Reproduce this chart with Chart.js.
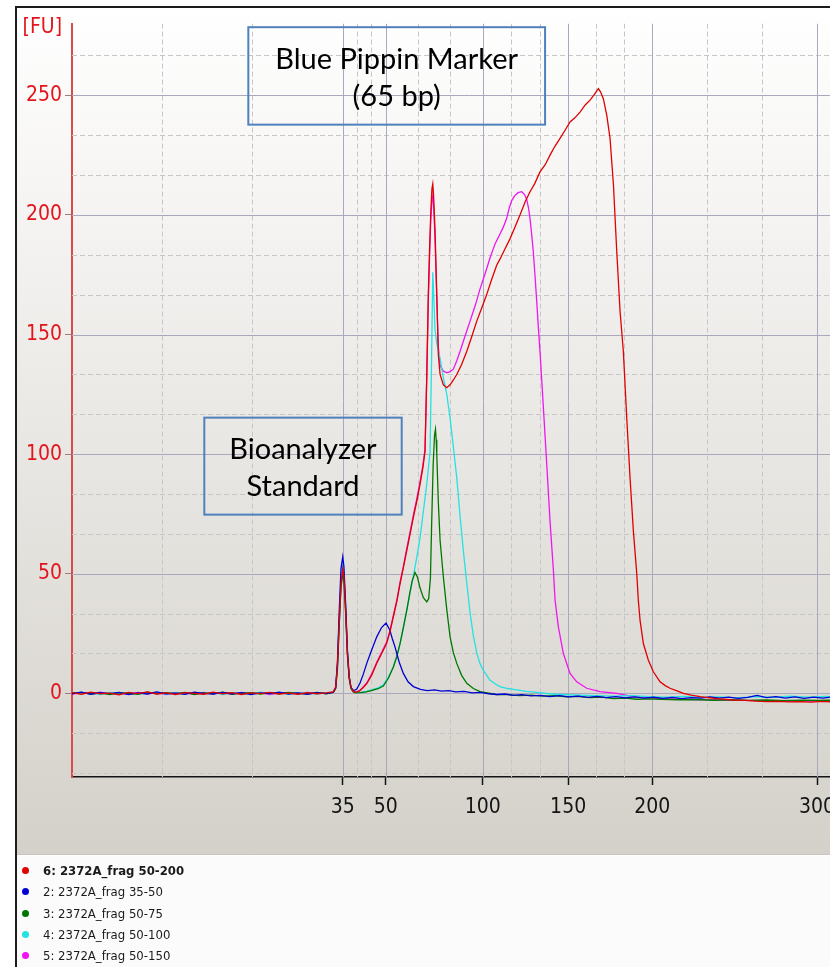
<!DOCTYPE html>
<html>
<head>
<meta charset="utf-8">
<script src="https://cdn.jsdelivr.net/npm/chart.js@4.4.1/dist/chart.umd.min.js"></script>
<style>
  html, body { margin: 0; padding: 0; width: 830px; height: 967px; overflow: hidden; background: #ffffff; }
  #frame { position: absolute; left: 15px; top: 6px; width: 900px; height: 1000px; border: 2px solid #1c1c1c; background: #fbfbfb; }
  #plot { position: absolute; left: 0; top: 0; width: 900px; height: 847px;
          background: linear-gradient(#ffffff 0%, #eceae7 45%, #d4d1ca 100%); }
  #plot canvas { position: absolute; left: 0; top: 0; }
  #legend { position: absolute; left: 0; top: 847px; width: 900px; height: 153px; background: #fbfbfb;
            border-top: 1px solid #ffffff; box-shadow: 0 -1px 0 #c8c5be; padding-top: 4px;
            font-family: 'DejaVu Sans Condensed', 'DejaVu Sans', sans-serif; font-size: 13px; color: #1a1a1a; }
  .row { position: relative; height: 21.25px; line-height: 21.25px; padding-left: 26px; white-space: nowrap; }
  .row .dot { position: absolute; left: 5px; top: 7px; width: 7px; height: 7px; border-radius: 50%; }
  .row.sel { font-weight: bold; }
</style>
</head>
<body>
<div id="frame">
  <div id="plot"><canvas id="chart" width="860" height="847"></canvas></div>
  <div id="legend"></div>
</div>
<script>
// Migration time (s) of the ladder sizes labelled on the x axis
const ladderTimes = [43.0, 46.65, 54.9, 62.15, 69.3, 83.3];
const ladderSizes = ['35', '50', '100', '150', '200', '300'];
// Fluorescence ticks
const fuTicks = [0, 50, 100, 150, 200, 250];

// Flat baseline before the lower marker (shared times, one noise row per sample)
const baselineTimes = [20.0, 20.8, 21.6, 22.4, 23.2, 24.0, 24.8, 25.6, 26.4, 27.2, 28.0, 28.8, 29.6, 30.4, 31.2,
  32.0, 32.8, 33.6, 34.4, 35.2, 36.0, 36.8, 37.6, 38.4, 39.2, 40.0, 40.8, 41.6, 42.2];
const baseline50to200 = [0.3, -0.4, 0.5, -0.2, 0.1, -0.6, 0.4, -0.1, 0.6, -0.3, 0.2, -0.5, 0.3, 0.0, -0.4,
  0.5, -0.2, 0.3, -0.5, 0.2, -0.1, 0.4, -0.3, 0.1, -0.4, 0.3, -0.2, 0.2, 0.6];
const baseline35to50 = [-0.2, 0.5, -0.4, 0.3, -0.1, 0.4, -0.5, 0.2, -0.3, 0.6, -0.2, 0.1, -0.4, 0.5, 0.0,
  -0.3, 0.4, -0.2, 0.3, -0.5, 0.2, -0.1, 0.5, -0.3, 0.2, -0.4, 0.3, -0.1, 0.5];
const baseline50to75 = [0.1, 0.4, -0.3, 0.2, -0.5, 0.3, 0.0, -0.4, 0.5, -0.2, 0.3, -0.1, 0.4, -0.5, 0.2,
  -0.2, 0.5, -0.4, 0.1, 0.3, -0.3, 0.2, -0.2, 0.4, 0.0, -0.3, 0.4, -0.2, 0.4];
const baseline50to100 = [0.4, -0.1, 0.2, -0.5, 0.4, -0.2, 0.3, -0.3, 0.1, 0.5, -0.4, 0.2, -0.2, 0.3, -0.1,
  0.4, -0.5, 0.2, 0.0, -0.3, 0.5, -0.2, 0.3, -0.4, 0.2, 0.1, -0.3, 0.3, 0.5];
const baseline50to150 = [-0.3, 0.2, -0.1, 0.5, -0.3, 0.1, -0.4, 0.4, -0.2, 0.2, -0.5, 0.3, 0.1, -0.3, 0.4,
  -0.1, 0.2, -0.4, 0.4, -0.2, 0.3, -0.5, 0.1, 0.3, -0.2, 0.4, -0.1, 0.1, 0.4];

// Peaks and tails: [time (s), FU]
const trace50to200 = [[42.4, 2.5], [42.55, 12], [42.7, 30], [42.85, 46], [43.0, 52], [43.1, 49], [43.25, 35],
  [43.4, 17], [43.55, 7], [43.7, 2.5], [43.9, 0.8], [44.1, 0.4], [44.4, 0.9], [44.7, 2.2],
  [45.04, 4], [45.45, 7.5], [45.89, 12.6], [46.3, 16.5], [46.74, 21], [47.0, 25.5], [47.3, 32], [47.6, 38.5],
  [47.87, 45.8], [48.15, 52.5], [48.44, 59.7], [48.72, 66.5], [49.0, 73.6], [49.3, 80.5], [49.57, 87.5],
  [49.8, 94], [49.99, 101], [50.14, 133], [50.27, 166.7], [50.38, 186], [50.48, 201], [50.58, 211], [50.65, 213],
  [50.72, 208], [50.84, 194], [50.99, 166.7], [51.12, 141.7], [51.27, 133.3], [51.55, 129], [51.84, 127.8],
  [52.12, 129], [52.4, 131], [52.69, 133.3], [53.1, 137.5], [53.54, 143], [53.95, 149], [54.38, 155.5],
  [54.8, 161], [55.23, 166.7], [55.65, 173], [56.08, 179], [56.36, 181.5], [56.8, 186], [57.21, 190],
  [57.6, 194.5], [58.06, 200], [58.5, 205.5], [58.91, 209.7], [59.3, 213], [59.76, 218], [60.2, 221],
  [60.61, 225], [61.0, 228.5], [61.46, 232], [61.9, 235.5], [62.31, 238.9], [62.7, 240.5], [63.16, 243],
  [63.6, 246], [64.01, 248], [64.4, 250.5], [64.6, 252], [64.72, 252.8], [64.9, 251.5], [65.14, 248.6],
  [65.43, 241.7], [65.71, 232], [66.0, 212.5], [66.28, 184.7], [66.56, 159.7], [66.84, 143], [67.13, 115],
  [67.41, 90], [67.69, 68], [67.98, 50], [68.11, 39], [68.26, 30.5], [68.54, 20.8], [68.96, 13.9], [69.39, 9],
  [69.96, 4.8], [70.4, 3.2], [70.81, 2.1], [71.4, 1.0], [71.94, 0], [72.6, -0.8], [73.36, -1.4], [74.2, -1.9],
  [75.0, -2.3], [76.18, -2.8], [77.2, -3.0], [78.1, -3.3], [79.02, -3.5], [80.0, -3.4], [80.9, -3.6],
  [81.85, -3.5], [82.8, -3.7], [83.7, -3.4], [84.4, -3.6], [85.3, -3.5], [86.2, -3.7], [87.5, -3.5]];

const trace35to50 = [[42.4, 2.5], [42.55, 13], [42.7, 34], [42.85, 52], [43.0, 57], [43.1, 53], [43.25, 37],
  [43.4, 18], [43.55, 7], [43.7, 2.5], [43.9, 1.2], [44.04, 1.3], [44.19, 1.8], [44.47, 4.3], [44.75, 8],
  [45.04, 12.5], [45.45, 18], [45.89, 23.6], [46.3, 27.5], [46.68, 29.4], [47.0, 26.5], [47.2, 23],
  [47.44, 19.4], [47.8, 13], [48.15, 8.3], [48.55, 4.8], [49.0, 2.8], [49.6, 1.6], [50.2, 1.1], [50.8, 1.4],
  [51.4, 0.9], [52.0, 1.1], [52.6, 0.6], [53.3, 0.8], [54.0, 0.2], [54.7, 0.4], [55.4, -0.2], [56.1, -0.5],
  [56.8, -0.3], [57.5, -0.9], [58.2, -0.6], [59.0, -1.1], [59.8, -0.9], [60.6, -1.4], [61.4, -1.0],
  [62.2, -1.5], [63.0, -1.2], [63.8, -1.7], [64.6, -1.3], [65.4, -1.8], [66.2, -1.4], [67.0, -1.9],
  [67.8, -1.5], [68.6, -2.0], [69.4, -1.6], [70.2, -2.1], [71.0, -1.7], [71.8, -2.2], [72.6, -1.8],
  [73.4, -2.0], [74.2, -1.5], [75.0, -2.0], [75.8, -1.6], [76.6, -2.1], [77.4, -1.7], [78.2, -0.9],
  [79.0, -1.8], [79.8, -1.4], [80.6, -2.0], [81.4, -1.5], [82.2, -2.1], [83.0, -1.6], [83.8, -2.0],
  [84.6, -1.5], [85.4, -2.0], [86.2, -1.6], [87.5, -1.8]];

const trace50to75 = [[42.4, 2], [42.55, 10], [42.7, 28], [42.85, 44], [43.0, 50], [43.1, 47], [43.25, 33],
  [43.4, 16], [43.55, 6], [43.7, 2], [43.9, 0.6], [44.1, 0.2], [44.5, 0.3], [45.0, 0.6], [45.5, 1.2],
  [46.0, 1.9], [46.45, 3], [46.9, 6.5], [47.3, 11], [47.6, 15.5], [47.87, 20.8], [48.15, 27.5], [48.44, 34.7],
  [48.7, 42], [48.9, 47], [49.14, 50.5], [49.35, 48.5], [49.57, 44], [49.85, 40], [50.14, 38.2], [50.3, 39.5],
  [50.45, 48], [50.55, 70], [50.68, 95], [50.8, 108], [50.88, 110.4], [50.94, 106], [50.99, 100], [51.12, 80],
  [51.27, 64], [51.55, 48.6], [51.84, 35], [52.12, 23.6], [52.4, 17], [52.69, 12.5], [53.1, 7.5], [53.54, 4.2],
  [54.1, 2.0], [54.66, 0.7], [55.3, 0.2], [56.0, -0.5], [57.0, -0.6], [58.0, -1.0], [59.0, -0.8], [60.0, -1.2],
  [61.0, -1.0], [62.0, -1.5], [63.0, -1.3], [64.0, -1.8], [65.0, -1.6], [66.0, -2.2], [67.0, -2.0],
  [68.0, -2.5], [69.0, -2.3], [70.0, -2.5], [71.5, -2.7], [73.0, -2.6], [74.5, -2.9], [76.0, -2.7],
  [77.5, -3.0], [79.0, -2.8], [80.5, -3.1], [82.0, -2.9], [83.5, -3.0], [85.0, -2.8], [87.5, -3.0]];

const trace50to100 = [[42.4, 2.2], [42.55, 12], [42.7, 31], [42.85, 48], [43.0, 54], [43.1, 51], [43.25, 36],
  [43.4, 17], [43.55, 6.5], [43.7, 2.2], [43.9, 0.8], [44.1, 0.3], [44.5, 0.4], [45.0, 0.8], [45.5, 1.5],
  [46.0, 2.3], [46.45, 3.5], [46.9, 7], [47.3, 11], [47.6, 15.5], [47.87, 20.8], [48.15, 27.5], [48.44, 34.7],
  [48.72, 42], [49.0, 49], [49.3, 57], [49.57, 65], [49.85, 76], [50.14, 87.5], [50.42, 101], [50.55, 140],
  [50.65, 176], [50.72, 168], [50.84, 152], [51.0, 146], [51.27, 140], [51.55, 132], [51.84, 125],
  [52.12, 115], [52.4, 103], [52.69, 90], [52.97, 74], [53.26, 59], [53.54, 46], [53.81, 34], [54.1, 24],
  [54.38, 17], [54.66, 12.5], [54.94, 9.7], [55.5, 5.5], [56.0, 3.8], [56.36, 2.8], [57.0, 2.0], [57.78, 1.4],
  [58.6, 0.8], [59.5, 0.4], [60.5, -0.2], [61.5, -0.5], [63.0, -0.8], [64.5, -1.0], [66.0, -1.2], [67.5, -1.0],
  [69.0, -1.4], [70.5, -1.6], [72.0, -1.3], [73.5, -1.8], [75.0, -1.5], [76.5, -1.9], [78.0, -1.4],
  [79.5, -1.7], [81.0, -1.2], [82.5, -1.6], [84.0, -1.3], [85.5, -1.7], [87.5, -1.4]];

const trace50to150 = [[42.4, 2], [42.55, 11], [42.7, 29], [42.85, 45], [43.0, 51], [43.1, 48], [43.25, 34],
  [43.4, 16], [43.55, 6.5], [43.7, 2.2], [43.9, 0.7], [44.1, 0.5], [44.4, 1.0], [44.7, 2.4],
  [45.04, 4.3], [45.45, 8], [45.89, 13], [46.3, 17], [46.74, 21.5], [47.0, 26], [47.3, 32.5], [47.6, 39],
  [47.87, 46.5], [48.15, 53], [48.44, 60.5], [48.72, 67.5], [49.0, 74.5], [49.3, 81.5], [49.57, 88.5],
  [49.8, 95], [49.99, 102], [50.14, 132], [50.27, 164], [50.38, 183], [50.48, 198], [50.58, 206], [50.65, 208],
  [50.72, 204], [50.84, 190], [50.99, 165], [51.12, 145], [51.27, 137], [51.55, 134.7], [51.84, 134],
  [52.12, 134.5], [52.4, 135.5], [52.69, 139], [52.97, 143], [53.4, 149.5], [53.81, 155.5], [54.25, 162],
  [54.66, 169], [55.1, 175.5], [55.51, 182], [55.95, 188], [56.36, 192], [56.65, 195], [56.93, 198.6],
  [57.15, 203], [57.36, 206], [57.6, 208], [57.9, 209.3], [58.21, 209.7], [58.45, 208.5], [58.63, 206.5],
  [58.78, 203], [58.91, 198.6], [59.05, 192], [59.19, 184.7], [59.33, 175], [59.48, 163.9], [59.62, 153],
  [59.76, 143], [60.04, 120], [60.33, 96], [60.61, 72], [60.89, 52], [61.04, 38.9], [61.32, 27.8],
  [61.74, 16.7], [62.31, 8.3], [62.88, 4.8], [63.73, 2.1], [64.86, 0.7], [66.28, 0], [67.69, -1.4],
  [68.8, -1.8], [70.0, -2.2], [71.5, -2.4], [73.0, -2.6], [75.0, -2.8], [77.0, -3.0], [79.0, -3.1],
  [81.0, -3.3], [83.0, -3.2], [85.0, -3.4], [87.5, -3.3]];

const sampleNames = ['6: 2372A_frag 50-200', '2: 2372A_frag 35-50', '3: 2372A_frag 50-75',
  '4: 2372A_frag 50-100', '5: 2372A_frag 50-150'];
const sampleColors = ['#e00000', '#0000d2', '#007800', '#22e2e2', '#f014f0'];
const sampleBaselines = [baseline50to200, baseline35to50, baseline50to75, baseline50to100, baseline50to150];
const sampleTraces = [trace50to200, trace35to50, trace50to75, trace50to100, trace50to150];

const X_MIN = 20, X_MAX = 87.54, Y_MIN = -35, Y_MAX = 280;
const tickFont = "'DejaVu Sans Condensed', 'DejaVu Sans', sans-serif";

const datasets = sampleNames.map((name, i) => ({
  label: name,
  data: baselineTimes.map((t, k) => ({ x: t, y: sampleBaselines[i][k] }))
        .concat(sampleTraces[i].map(p => ({ x: p[0], y: p[1] }))),
  borderColor: sampleColors[i],
  backgroundColor: sampleColors[i],
  borderWidth: 1.3,
  pointRadius: 0,
  tension: 0,
  fill: false
}));

// Text boxes placed in data coordinates (time, FU)
const callouts = [
  { x0: 34.98, x1: 60.19, y0: 278.5, y1: 237.75, lines: ['Blue Pippin Marker', '(65 bp)'] },
  { x0: 31.24, x1: 48.01, y0: 115.25, y1: 74.7, lines: ['Bioanalyzer', 'Standard'] }
];

// Solid lines on labelled values, dashed lines at thirds in between
const gridPlugin = {
  id: 'electroGrid',
  beforeDatasetsDraw(chart) {
    const { ctx, chartArea: a, scales: { x, y } } = chart;
    const step = 50 / 3;
    const yMinor = [], yMajor = [];
    for (let k = Math.ceil(Y_MIN / step); k * step <= Y_MAX; k++) {
      (k % 3 === 0 ? yMajor : yMinor).push(k * step);
    }
    const xStops = [X_MIN].concat(ladderTimes);
    const xMinor = [];
    for (let i = 0; i < xStops.length - 1; i++) {
      const d = (xStops[i + 1] - xStops[i]) / 3;
      xMinor.push(xStops[i] + d, xStops[i] + 2 * d);
    }
    ctx.save();
    ctx.beginPath();
    ctx.rect(a.left, a.top, a.right - a.left, a.bottom - a.top);
    ctx.clip();
    ctx.lineWidth = 1;
    ctx.strokeStyle = '#c6c6c6';
    ctx.setLineDash([5, 3]);
    ctx.beginPath();
    yMinor.forEach(v => { const p = Math.round(y.getPixelForValue(v)) + 0.5; ctx.moveTo(a.left, p); ctx.lineTo(a.right, p); });
    xMinor.forEach(v => { const p = Math.round(x.getPixelForValue(v)) + 0.5; ctx.moveTo(p, a.top); ctx.lineTo(p, a.bottom); });
    ctx.stroke();
    ctx.setLineDash([]);
    ctx.strokeStyle = '#a9a9bd';
    ctx.beginPath();
    yMajor.forEach(v => { const p = Math.round(y.getPixelForValue(v)) + 0.5; ctx.moveTo(a.left, p); ctx.lineTo(a.right, p); });
    ladderTimes.forEach(v => { const p = Math.round(x.getPixelForValue(v)) + 0.5; ctx.moveTo(p, a.top); ctx.lineTo(p, a.bottom); });
    ctx.stroke();
    ctx.restore();
  }
};

const calloutPlugin = {
  id: 'callouts',
  afterDatasetsDraw(chart) {
    const { ctx, chartArea: a, scales: { x, y } } = chart;
    ctx.save();
    callouts.forEach(c => {
      const l = x.getPixelForValue(c.x0), r = x.getPixelForValue(c.x1);
      const t = y.getPixelForValue(c.y0), b = y.getPixelForValue(c.y1);
      ctx.strokeStyle = '#4f81bd';
      ctx.lineWidth = 2;
      ctx.strokeRect(l, t, r - l, b - t);
      ctx.fillStyle = '#000000';
      ctx.font = "29px Lato, 'Open Sans', sans-serif";
      ctx.textAlign = 'center';
      ctx.textBaseline = 'middle';
      const cx = (l + r) / 2, cy = (t + b) / 2 + 2, gap = 36.5;
      c.lines.forEach((txt, i) => {
        ctx.fillText(txt, cx, cy + (i - (c.lines.length - 1) / 2) * gap);
      });
    });
    // unit label above the FU axis
    ctx.fillStyle = '#e3141c';
    ctx.font = '21px ' + tickFont;
    ctx.textAlign = 'right';
    ctx.textBaseline = 'middle';
    ctx.fillText('[FU]', a.left - 10, a.top + 4);
    ctx.restore();
  }
};

new Chart(document.getElementById('chart'), {
  type: 'line',
  data: { datasets },
  options: {
    responsive: false,
    animation: false,
    layout: { padding: { top: 14, right: 10, bottom: 0, left: 0 } },
    plugins: { legend: { display: false }, tooltip: { enabled: false } },
    scales: {
      x: {
        type: 'linear', min: X_MIN, max: X_MAX,
        afterBuildTicks: s => { s.ticks = ladderTimes.map(v => ({ value: v })); },
        afterFit: s => { s.height = 78; },
        ticks: { autoSkip: false, maxRotation: 0, minRotation: 0, padding: 10, color: '#141414',
                 font: { family: tickFont, size: 21 }, callback: (v, i) => ladderSizes[i] },
        grid: { drawOnChartArea: false, drawTicks: true, tickLength: 8, tickColor: '#141414', tickWidth: 1.5 },
        border: { display: true, color: '#141414', width: 1.5 }
      },
      y: {
        type: 'linear', min: Y_MIN, max: Y_MAX,
        afterBuildTicks: s => { s.ticks = fuTicks.map(v => ({ value: v })); },
        afterFit: s => { s.width = 55; },
        ticks: { padding: 3, color: '#e3141c', font: { family: tickFont, size: 21 }, callback: v => String(v) },
        grid: { drawOnChartArea: false, drawTicks: true, tickLength: 7, tickColor: '#a07c7c', tickWidth: 1 },
        border: { display: true, color: '#d94a4a', width: 2 }
      }
    }
  },
  plugins: [gridPlugin, calloutPlugin]
});

// Sample list under the plot
const legend = document.getElementById('legend');
sampleNames.forEach((name, i) => {
  const row = document.createElement('div');
  row.className = 'row' + (i === 0 ? ' sel' : '');
  const dot = document.createElement('span');
  dot.className = 'dot';
  dot.style.background = sampleColors[i];
  row.appendChild(dot);
  row.appendChild(document.createTextNode(name));
  legend.appendChild(row);
});
</script>
</body>
</html>
